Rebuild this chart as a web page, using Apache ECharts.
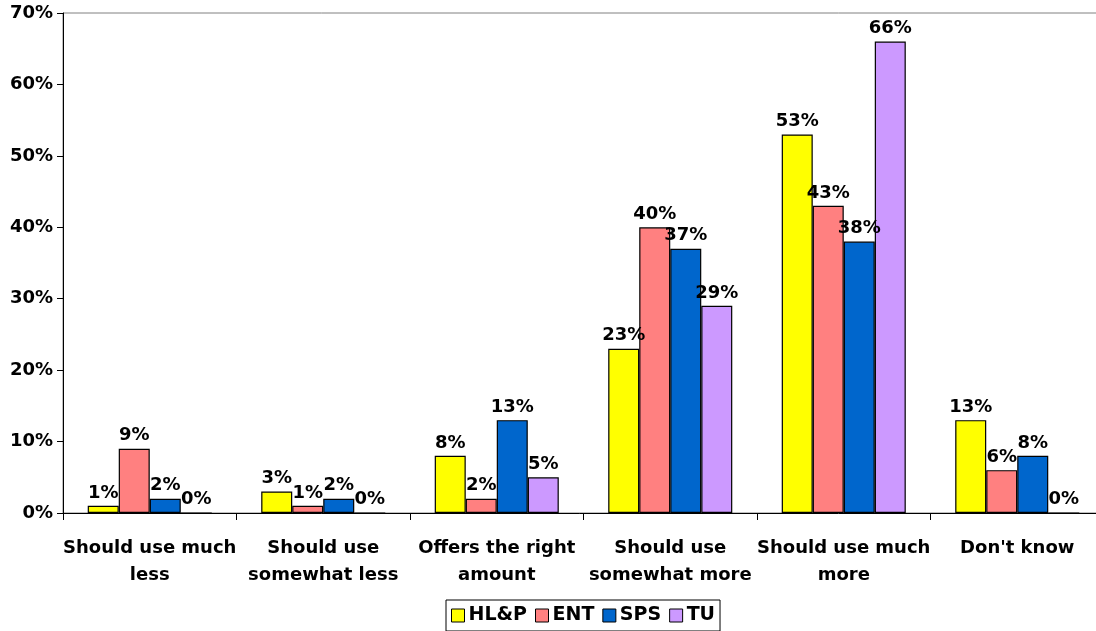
<!DOCTYPE html>
<html>
<head>
<meta charset="utf-8">
<style>
html,body{margin:0;padding:0;background:#fff;overflow:hidden;}
#chart{width:1096px;height:631px;}
</style>
<script src="https://cdn.jsdelivr.net/npm/echarts@6/dist/echarts.min.js"></script>
</head>
<body>
<div id="chart"></div>
<script>
var categories = ["Should use much\nless", "Should use\nsomewhat less", "Offers the right\namount", "Should use\nsomewhat more", "Should use much\nmore", "Don't know"];
var seriesNames = ["HL&P", "ENT", "SPS", "TU"];
var hlp = [1, 3, 8, 23, 53, 13];
var ent = [9, 1, 2, 40, 43, 6];
var sps = [2, 2, 13, 37, 38, 8];
var tu = [0, 0, 5, 29, 66, 0];
var colors = ["#FFFF00", "#FF8080", "#0066CC", "#CC99FF"];
var yTicks = [0, 10, 20, 30, 40, 50, 60, 70];

var font = "'DejaVu Sans', sans-serif";
var values = [hlp, ent, sps, tu];
var series = seriesNames.map(function (n, i) {
  return {
    name: n,
    type: 'bar',
    data: values[i],
    barGap: '0%',
    barCategoryGap: '28.5%',
    itemStyle: { color: colors[i], borderColor: '#000', borderWidth: 1.2 },
    label: {
      show: true, position: 'top', distance: 4,
      formatter: '{c}%',
      fontFamily: font, fontWeight: 'bold', fontSize: 18, color: '#000'
    }
  };
});

var chart = echarts.init(document.getElementById('chart'), null, { renderer: 'canvas' });
chart.setOption({
  animation: false,
  backgroundColor: '#fff',
  grid: { left: 63, right: -8, top: 13, bottom: 118, outerBoundsMode: 'none', containLabel: false, show: true, borderColor: '#808080', borderWidth: 1 },
  legend: {
    data: seriesNames,
    left: 446, top: 600,
    orient: 'horizontal',
    itemWidth: 13, itemHeight: 13, itemGap: 8,
    padding: [6, 5, 6, 5],
    borderColor: '#000', borderWidth: 1, backgroundColor: '#fff',
    icon: 'rect',
    textStyle: { fontFamily: font, fontWeight: 'bold', fontSize: 19, color: '#000', padding: [0, 0, 0, -1] },
    itemStyle: { borderColor: '#000', borderWidth: 1 }
  },
  xAxis: {
    type: 'category',
    data: categories,
    axisLine: { lineStyle: { color: '#000', width: 1 } },
    axisTick: { show: true, alignWithLabel: false, length: 7, lineStyle: { color: '#000' } },
    axisLabel: { interval: 0, margin: 22, fontFamily: font, fontWeight: 'bold', fontSize: 18, color: '#000', lineHeight: 27, align: 'center' },
    splitLine: { show: false }
  },
  yAxis: {
    type: 'value',
    min: yTicks[0], max: yTicks[yTicks.length - 1], interval: 10,
    axisLine: { show: true, lineStyle: { color: '#000', width: 1 } },
    axisTick: { show: true, length: 6, lineStyle: { color: '#000' } },
    axisLabel: { formatter: '{value}%', margin: 10, fontFamily: font, fontWeight: 'bold', fontSize: 18, color: '#000' },
    splitLine: { show: false }
  },
  series: series
});
</script>
</body>
</html>
